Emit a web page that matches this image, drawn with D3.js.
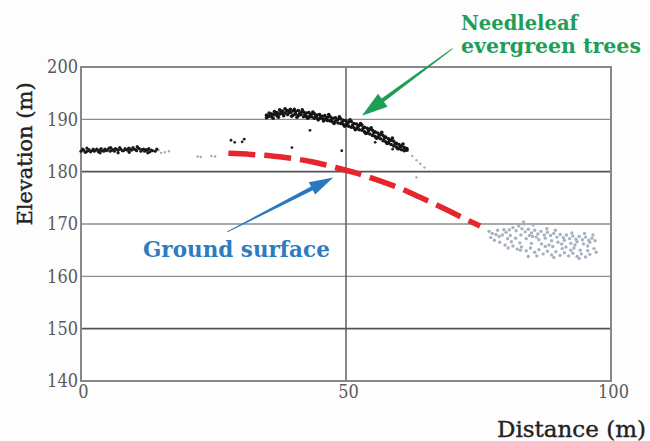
<!DOCTYPE html>
<html>
<head>
<meta charset="utf-8">
<script src="https://cdn.jsdelivr.net/npm/d3@7"></script>
<style>
  body { margin: 0; background: #fdfdfd; }
  svg { display: block; }
</style>
</head>
<body>
<script>
const width = 650;
const height = 441;

// tick values
const xTicks = [0, 50, 100];
const yTicks = [140, 150, 160, 170, 180, 190, 200];
const darkGrid = [180, 150];

// laser returns: left canopy band (black)
const canopyLeft = [
  [0.0,183.9],[0.5,184.1],[1.0,183.8],[1.5,184.2],[2.0,184.0],[2.5,183.9],[3.0,184.3],[3.5,184.1],
  [4.0,184.0],[4.5,184.3],[5.0,184.2],[5.5,183.9],[6.0,184.2],[6.5,184.4],[7.0,184.1],[7.5,184.3],
  [8.0,184.0],[8.5,184.2],[9.0,184.5],[9.5,184.1],[10.0,184.3],[10.5,184.0],[11.0,184.4],[11.5,184.2],
  [12.0,183.9],[12.5,184.1],[13.0,183.8],[13.5,184.0],[14.0,183.9],
  [0.3,184.3],[0.8,183.7],[1.3,184.0],[1.8,183.8],[2.3,184.3],[2.8,184.1],[3.3,183.8],[3.8,184.4],
  [4.3,183.9],[4.8,184.0],[5.3,184.5],[5.8,184.1],[6.3,183.9],[6.8,184.2],[7.3,184.6],[7.8,184.0],
  [8.3,184.4],[8.8,184.1],[9.3,184.3],[9.8,184.6],[10.3,184.2],[10.8,184.5],[11.3,183.9],[11.8,184.3],
  [12.3,184.2],[12.8,184.4],[13.3,184.1],
  [1.1,184.5],[3.6,183.6],[5.6,184.6],[7.0,183.6],[9.1,183.7],[10.6,184.8],[12.6,183.6],[14.3,184.3]
];

// main needleleaf canopy (black)
const canopyMain = [
  [35.0,190.8],[35.0,190.3],[35.5,191.2],[35.5,190.6],[36.0,191.0],[36.0,190.5],[36.5,191.5],[36.5,190.9],
  [37.0,191.3],[37.0,190.7],[37.5,191.8],[37.5,191.0],[38.0,191.6],[38.0,191.1],[38.5,192.0],[38.5,191.2],
  [39.0,191.7],[39.0,190.9],[39.5,191.9],[39.5,191.3],[40.0,191.6],[40.0,190.8],[40.5,191.5],[40.5,191.0],
  [41.0,191.7],[41.0,190.7],[41.5,191.3],[41.5,190.9],[42.0,191.4],[42.0,190.5],[42.5,191.2],[42.5,190.6],
  [43.0,191.3],[43.0,190.4],[43.5,191.0],[43.5,190.5],[44.0,191.1],[44.0,190.2],[44.5,190.8],[44.5,190.3],
  [45.0,190.9],[45.0,190.1],[45.5,190.6],[45.5,190.2],[46.0,190.7],[46.0,189.9],[46.5,190.4],[46.5,189.8],
  [47.0,190.5],[47.0,189.7],[47.5,190.2],[47.5,189.5],[48.0,190.3],[48.0,189.6],[48.5,190.0],[48.5,189.3],
  [49.0,190.1],[49.0,189.2],[49.5,189.8],[49.5,189.0],[50.0,189.7],[50.0,188.9],[50.5,189.5],[50.5,188.7],
  [51.0,189.6],[51.0,188.5],[51.5,189.2],[51.5,188.4],[52.0,189.1],[52.0,188.2],[52.5,188.8],[52.5,188.0],
  [53.0,188.9],[53.0,187.9],[53.5,188.5],[53.5,187.6],[54.0,188.3],[54.0,187.4],[54.5,188.1],[54.5,187.2],
  [55.0,187.9],[55.0,186.9],[55.5,187.6],[55.5,186.7],[56.0,187.4],[56.0,186.5],[56.5,187.1],[56.5,186.3],
  [57.0,186.9],[57.0,185.9],[57.5,186.6],[57.5,185.7],[58.0,186.3],[58.0,185.5],[58.5,186.0],[58.5,185.2],
  [59.0,185.8],[59.0,184.9],[59.5,185.4],[59.5,184.7],[60.0,185.2],[60.0,184.4],[60.5,184.9],[60.5,184.2],
  [61.0,184.6],[61.0,184.0],[61.5,184.4],[61.5,184.1],
  [35.25,190.5],[35.75,191.0],[36.25,190.2],[36.75,191.2],[37.25,190.4],[37.75,191.4],[38.25,190.7],
  [38.75,191.6],[39.25,191.3],[39.75,190.6],[40.25,191.9],[40.75,190.4],[41.25,191.1],[41.75,191.8],
  [42.25,190.9],[42.75,190.2],[43.25,190.8],[43.75,191.4],[44.25,190.6],[44.75,189.9],[45.25,190.5],
  [45.75,189.7],[46.25,190.3],[46.75,190.9],[47.25,189.9],[47.75,189.2],[48.25,189.9],[48.75,190.5],
  [49.25,189.5],[49.75,188.7],[50.25,189.2],[50.75,189.9],[51.25,188.9],[51.75,188.0],[52.25,188.6],
  [52.75,189.2],[53.25,188.3],[53.75,187.3],[54.25,187.8],[54.75,188.4],[55.25,187.4],[55.75,186.4],
  [56.25,186.9],[56.75,187.5],[57.25,186.4],[57.75,185.4],[58.25,185.9],[58.75,186.4],[59.25,185.3],
  [59.75,184.4],[60.25,184.8],[60.75,185.3],[61.25,184.3]
];

// scattered single returns (black)
const strays = [
  [28.3,186.0],[29.0,185.6],[30.4,185.7],[30.8,186.2],[39.8,184.6],[43.2,187.9],
  [49.2,184.0],[55.5,185.6],[58.8,184.3]
];

// faint returns (light grey)
const faint = [
  [14.6,184.1],[15.1,183.6],[15.8,183.7],[16.6,183.9],[22.0,182.9],[22.6,182.8],[24.6,183.0],[25.3,182.9],
  [62.5,183.0],[63.3,182.2],[64.0,181.5],[64.8,180.8],[63.3,178.9]
];

// low vegetation at right (grey-blue)
const lowVeg = [
  [77.0,168.6],[77.6,168.2],[78.3,168.0],[78.9,167.6],[79.5,167.9],[80.2,168.4],[80.8,168.9],[81.5,169.3],
  [82.1,168.7],[82.6,169.6],[83.2,169.1],[83.8,168.5],[84.4,169.0],[85.0,168.3],[85.6,168.8],[86.2,168.1],
  [86.8,168.6],[87.4,167.9],[88.0,168.4],[88.6,167.8],[89.2,168.2],[89.8,167.5],[90.4,168.0],[91.0,167.4],
  [91.6,167.9],[92.2,167.2],[92.8,167.7],[93.4,167.1],[94.0,167.6],[94.6,167.0],[95.2,167.5],[95.8,166.9],
  [96.4,167.3],[97.0,166.8],
  [81.0,167.8],[82.0,167.3],[83.0,167.9],[84.0,167.2],[85.2,167.6],[86.4,167.0],[87.6,167.3],[88.8,166.8],
  [90.0,166.5],[91.2,166.9],[92.4,166.3],[93.6,166.6],[94.8,166.2],[96.0,166.5],
  [81.5,165.8],[82.3,165.2],[83.1,165.6],[84.0,164.9],[84.8,165.4],[85.6,164.6],[86.4,165.1],[87.2,164.3],
  [88.0,164.8],[88.8,164.1],[89.6,164.7],[90.4,164.0],[91.2,164.5],[92.0,163.9],[92.8,164.4],[93.6,163.8],
  [94.4,164.3],[95.2,163.7],[96.0,164.2],
  [79.0,166.5],[80.0,166.0],[85.0,166.3],[89.0,165.7],[93.0,165.4],[96.8,165.3],
  [77.3,167.4],[78.0,166.9],[78.6,168.8],[79.8,168.9],[80.5,167.2],[81.2,166.6],[82.8,166.4],[83.6,170.0],
  [84.6,167.8],[85.9,167.5],[86.9,166.2],[87.9,169.1],[88.3,166.0],[89.5,168.8],[90.7,166.2],[91.5,165.6],
  [92.6,168.3],[93.2,166.0],[94.2,165.0],[95.0,168.2],[95.6,165.8],[96.6,167.9],[97.2,164.6],[84.4,163.8],
  [86.0,163.9],[87.6,165.7],[89.2,163.6],[90.8,165.3],[92.4,165.0],[94.0,163.4],[95.6,164.9],[83.5,170.4],
  [85.3,169.8],[82.9,165.0],[80.6,165.4]
];

// estimated ground surface (red dashed)
const ground = [
  [27.8,183.5],[32,183.3],[36,183.0],[40,182.5],[44,181.8],[48,180.8],[52,179.7],
  [56,178.4],[60,176.9],[64,175.1],[68,173.2],[72,171.2],[75.3,169.6]
];

let margin = { top: 67, right: 39, bottom: 60, left: 81 };

let svg = d3
  .select("body")
  .append("svg")
  .attr("width", width)
  .attr("height", height);

let x = d3.scaleLinear().domain([0, 100]).range([margin.left, width - margin.right]);
let y = d3.scaleLinear().domain([140, 200]).range([height - margin.bottom, margin.top]);

// plot background
svg
  .append("rect")
  .attr("x", x(0))
  .attr("y", y(200))
  .attr("width", x(100) - x(0))
  .attr("height", y(140) - y(200))
  .attr("fill", "#ffffff");

// horizontal grid lines
svg
  .selectAll("line.grid")
  .data(yTicks.filter((d) => d > 140 && d < 200))
  .join("line")
  .attr("class", "grid")
  .attr("x1", x(0))
  .attr("x2", x(100))
  .attr("y1", (d) => y(d))
  .attr("y2", (d) => y(d))
  .attr("stroke", (d) => (darkGrid.includes(d) ? "#555" : "#8c8c8c"))
  .attr("stroke-width", (d) => (darkGrid.includes(d) ? 1.6 : 1.4));

// vertical line at 50 m
svg
  .append("line")
  .attr("x1", x(50))
  .attr("x2", x(50))
  .attr("y1", y(200))
  .attr("y2", y(140))
  .attr("stroke", "#555")
  .attr("stroke-width", 1.4);

// frame
svg
  .append("rect")
  .attr("x", x(0))
  .attr("y", y(200))
  .attr("width", x(100) - x(0))
  .attr("height", y(140) - y(200))
  .attr("fill", "none")
  .attr("stroke", "#888")
  .attr("stroke-width", 2);

// point clouds
function drawPoints(data, color, r) {
  svg
    .append("g")
    .selectAll("circle")
    .data(data)
    .join("circle")
    .attr("cx", (d) => x(d[0]))
    .attr("cy", (d) => y(d[1]))
    .attr("r", r)
    .attr("fill", color);
}
drawPoints(faint, "#a8a8a8", 1.2);
drawPoints(lowVeg, "#a6b1c1", 1.7);
drawPoints(canopyLeft, "#1a1a1a", 1.6);
drawPoints(canopyMain, "#151515", 1.8);
drawPoints(strays, "#222", 1.4);

// ground line
svg
  .append("path")
  .datum(ground)
  .attr("fill", "none")
  .attr("stroke", "#e5262c")
  .attr("stroke-width", 5.5)
  .attr("stroke-dasharray", "27,9")
  .attr("d", d3.line().x((d) => x(d[0])).y((d) => y(d[1])).curve(d3.curveMonotoneX));

// axes
const tickFont = "'DejaVu Serif Condensed', 'DejaVu Serif', serif";
let yAxis = svg
  .append("g")
  .attr("transform", `translate(${x(0) - 3}, 0)`)
  .call(d3.axisLeft(y).tickValues(yTicks).tickSize(0).tickPadding(0));
let xAxis = svg
  .append("g")
  .attr("transform", `translate(0, ${y(140)})`)
  .call(d3.axisBottom(x).tickValues(xTicks).tickSize(0).tickPadding(4));
[xAxis, yAxis].forEach((a) => {
  a.select(".domain").remove();
  a.selectAll("text")
    .attr("font-family", tickFont)
    .attr("font-size", 18)
    .attr("fill", "#5a5a5a");
});
xAxis.selectAll("text").attr("dx", 2);

// axis titles
svg
  .append("text")
  .attr("transform", `translate(32, 154) rotate(-90)`)
  .attr("text-anchor", "middle")
  .attr("font-family", "'DejaVu Serif', serif")
  .attr("font-size", 21)
  .attr("fill", "#222")
  .attr("stroke", "#222")
  .attr("stroke-width", 0.4)
  .text("Elevation (m)");

svg
  .append("text")
  .attr("x", 497)
  .attr("y", 437)
  .attr("font-family", "'DejaVu Serif', serif")
  .attr("font-size", 23)
  .attr("fill", "#222")
  .attr("stroke", "#222")
  .attr("stroke-width", 0.4)
  .text("Distance (m)");

// annotation arrows (data coordinates)
function arrow(from, to, color, headLen, headW, tailW, shaftW) {
  let x0 = x(from[0]), y0 = y(from[1]);
  let x1 = x(to[0]), y1 = y(to[1]);
  let dx = x1 - x0, dy = y1 - y0;
  let len = Math.hypot(dx, dy);
  let ux = dx / len, uy = dy / len;
  let px = -uy, py = ux;
  let bx = x1 - ux * headLen, by = y1 - uy * headLen;
  let pts = [
    [x0 + px * tailW / 2, y0 + py * tailW / 2],
    [bx + px * shaftW / 2, by + py * shaftW / 2],
    [bx + px * headW, by + py * headW],
    [x1, y1],
    [bx - px * headW, by - py * headW],
    [bx - px * shaftW / 2, by - py * shaftW / 2],
    [x0 - px * tailW / 2, y0 - py * tailW / 2]
  ];
  svg.append("path").attr("d", "M" + pts.join("L") + "Z").attr("fill", color);
}
const greenArrow = { from: [70.1, 203.5], to: [53.0, 190.7] };
const blueArrow = { from: [27.6, 168.5], to: [47.6, 178.9] };
arrow(greenArrow.from, greenArrow.to, "#1f9e55", 26, 8, 1, 4);
arrow(blueArrow.from, blueArrow.to, "#2a78bd", 24, 7, 1, 4);

// annotation labels
let treeLabel = svg
  .append("text")
  .attr("font-family", "'DejaVu Serif', serif")
  .attr("font-weight", "bold")
  .attr("font-size", 19.5)
  .attr("fill", "#1f9e5a");
treeLabel.append("tspan").attr("x", 461).attr("y", 30).text("Needleleaf");
treeLabel.append("tspan").attr("x", 461).attr("y", 53).attr("font-size", 20.5).text("evergreen trees");

svg
  .append("text")
  .attr("x", 143)
  .attr("y", 257)
  .attr("font-family", "'DejaVu Serif', serif")
  .attr("font-weight", "bold")
  .attr("font-size", 21.5)
  .attr("fill", "#2e7bbf")
  .text("Ground surface");
</script>
</body>
</html>
